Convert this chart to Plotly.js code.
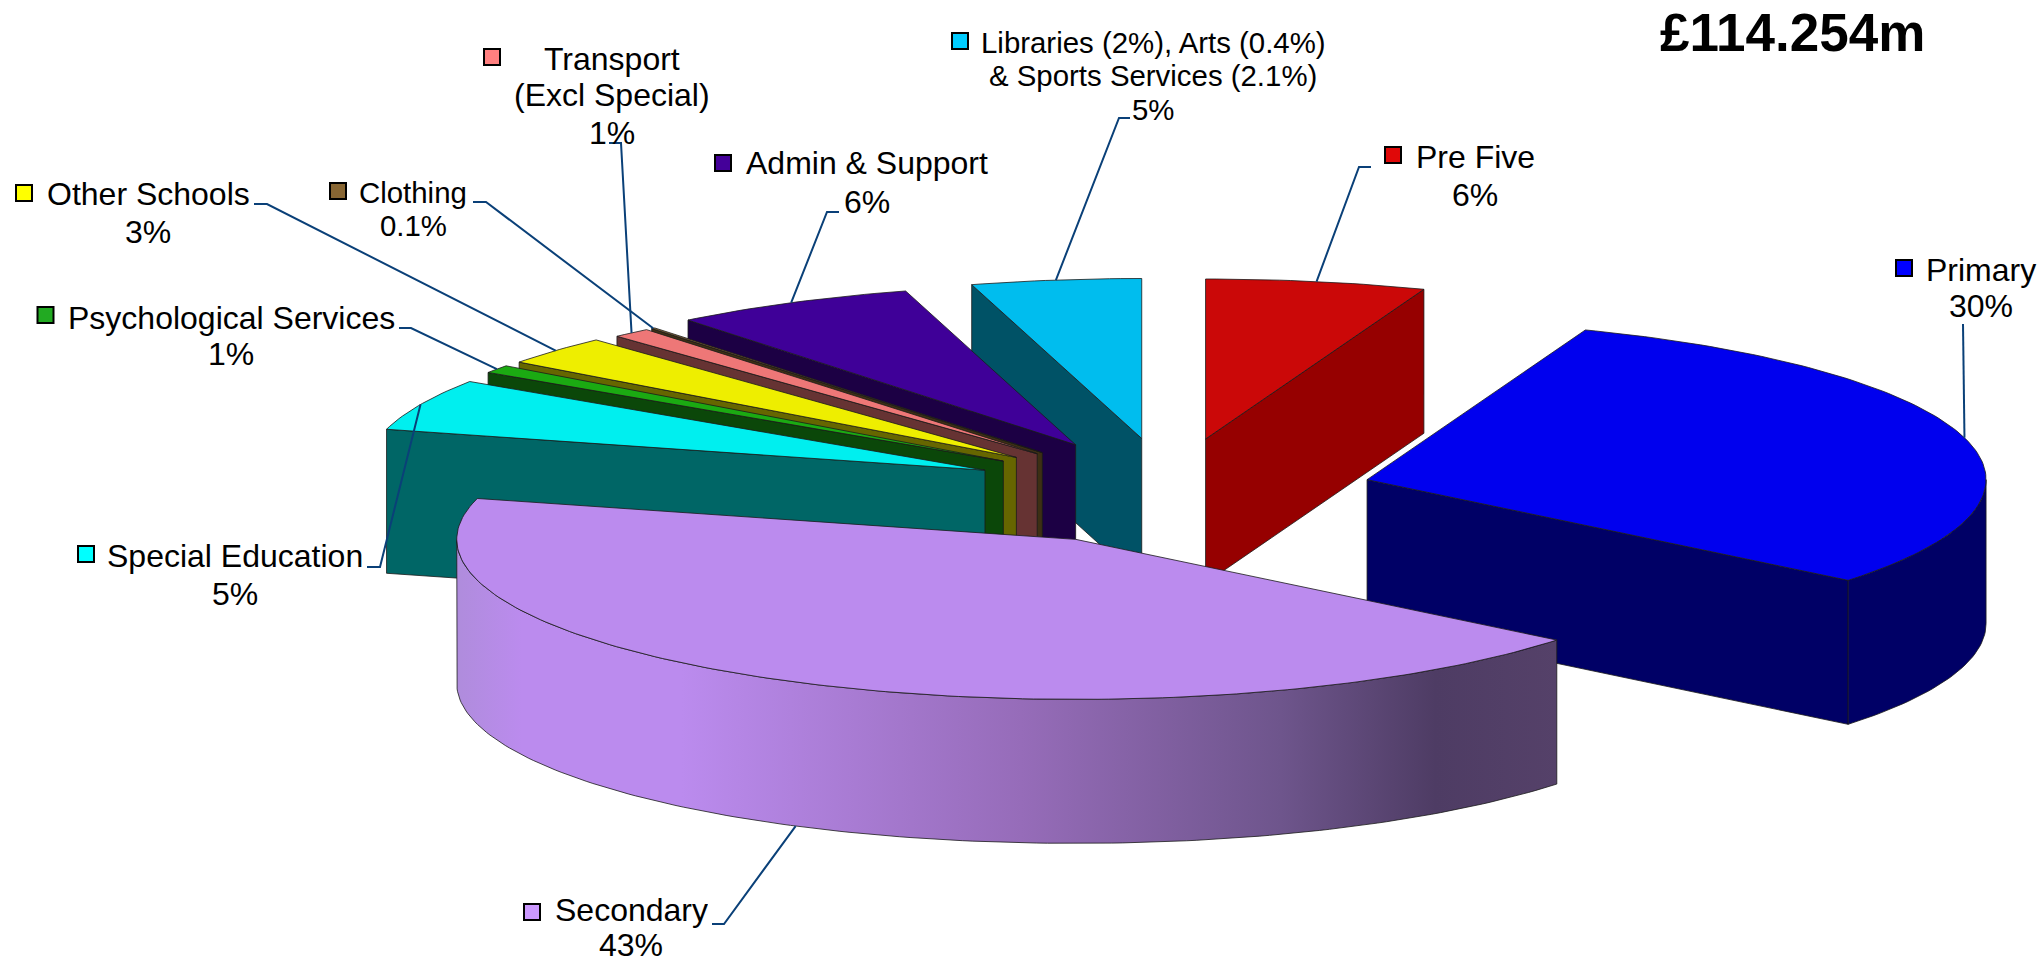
<!DOCTYPE html>
<html>
<head>
<meta charset="utf-8">
<script src="https://cdn.plot.ly/plotly-3.0.1.min.js"></script>
<style>html,body{margin:0;padding:0;background:#fff}#chart{width:2041px;height:962px}</style>
</head>
<body>
<div id="chart"></div>
<script>
// ---- data (clockwise from 12 o'clock) ----
const categories = ['Pre Five','Primary','Secondary','Special Education','Psychological Services','Other Schools','Transport','Clothing','Admin & Support','Libraries'];
const values = [5.7,29.9,43,5.2,0.8,2.95,1,0.1,6.3,4.4];
const percentLabels = ['6%','30%','43%','5%','1%','3%','1%','0.1%','6%','5%'];
const totalLabel = '£114.254m';
const labelLines = [['Pre Five'],['Primary'],['Secondary'],['Special Education'],['Psychological Services'],['Other Schools'],['Transport','(Excl Special)'],['Clothing'],['Admin & Support'],['Libraries (2%), Arts (0.4%)','& Sports Services (2.1%)']];

// ---- styles ----
const keyColors  = ['#E00808','#0000FF','#CC99FF','#00FFFF','#22AA22','#FFFF00','#FF8080','#886633','#440099','#00CCFF'];
const topColors  = ['#CB0808','#0000EE','#BB8BEE','#00EFEF','#1BAA12','#EEEE00','#EE7777','#806030','#3F0098','#00BDEE'];
const sideColors = ['#960000','#000066','#BB8BEE','#006666','#0B4709','#666600','#663333','#3D2F14','#1C0044','#005266'];
const gradientStops = [[0,'rgb(175,140,220)'],[0.059,'rgb(187,139,238)'],[0.204,'rgb(187,139,238)'],[0.513,'rgb(150,108,185)'],[0.749,'rgb(110,85,140)'],[0.89,'rgb(78,60,100)'],[1,'rgb(85,65,105)']];
const edgeColor = '#1a1a1a', leaderColor = '#0A4078';

// ---- layout constants of the tilted pie, in axis units ----
const centre = [1173.5,490], radiusX = 619, radiusY = 160, depth = 144;
const explodeX = [0.289,0.324,0.349,0.334,0.336,0.341,0.336,0.337,0.344,0.370];
const explodeY = [0.324,0.247,0.346,0.302,0.314,0.305,0.300,0.300,0.318,0.325];
const drawOrder = [9,0,8,7,6,5,4,3,1,2];

// ---- label layout, in axis units ----
const labelSizes = [32,32,32,32,32,32,32,29.4,32,29.4];
const labelX = [1475,1981,631,235,231,148,612,413,867,1153];
const labelY = [[157,195],[270,306],[910,945],[556,594],[318,354],[194,232],[59,95,133],[192,225],[163,202],[42,75,109]];
const labelBoxHeights = {2:[36,34]};
const keyX = [1393,1904,532,86,45.5,24,492,338,723,960];
const keyY = [155,268,912,554,315,193,57,191,163,41];
const leaderElbows = [[[1371,167],[1359,167]],[[1963,324]],[[712,924],[724,924]],[[367,567],[380,567]],[[399,328],[411,328]],[[254,204],[267,204]],[[609,143],[621,143]],[[473,202],[486,202]],[[839,212],[827,212]],[[1130,118],[1119,118]]];
const leaderOnSide = [false,false,true,false,false,false,false,false,false,false];

// ---- geometry from the values ----
const rad = d => d*Math.PI/180;
const total = values.reduce((a,b)=>a+b,0);
let running = 0;
const slices = values.map((v,i)=>{
  const a0 = running/total*360; running += v; const a1 = running/total*360;
  const mid = (a0+a1)/2;
  return {i,a0,a1,mid,
    ax: centre[0]+explodeX[i]*radiusX*Math.sin(rad(mid)),
    ay: centre[1]-explodeY[i]*radiusY*Math.cos(rad(mid))};
});
const rim = (s,a,z) => [s.ax+radiusX*Math.sin(rad(a)), s.ay-radiusY*Math.cos(rad(a))+z];
function sweep(a,b){const n=Math.max(1,Math.ceil(Math.abs(b-a)));const o=[];for(let k=0;k<=n;k++)o.push(a+(b-a)*k/n);return o;}
function poly(points,color,extra){
  const closed = points.concat([points[0]]);
  return Object.assign({type:'scatter',mode:'lines',x:closed.map(p=>p[0]),y:closed.map(p=>p[1]),
    fill:'toself',fillcolor:color,line:{color:edgeColor,width:0.8},hoverinfo:'skip',showlegend:false},extra||{});
}
const traces = [];
drawOrder.forEach(i=>{
  const s = slices[i];
  const apexTop=[s.ax,s.ay], apexBot=[s.ax,s.ay+depth];
  // radial faces that look toward the viewer
  if(Math.sin(rad(s.a0))<0) traces.push(poly([apexTop,rim(s,s.a0,0),rim(s,s.a0,depth),apexBot],sideColors[i]));
  if(Math.sin(rad(s.a1))>0) traces.push(poly([apexTop,rim(s,s.a1,0),rim(s,s.a1,depth),apexBot],sideColors[i]));
  // curved outer wall, front half only
  const w0=Math.max(s.a0,90), w1=Math.min(s.a1,270);
  if(w1>w0){
    const arc=sweep(w0,w1);
    const pts=arc.map(a=>rim(s,a,0)).concat(arc.slice().reverse().map(a=>rim(s,a,depth)));
    const extra={};
    if(i===2){
      const xs=pts.map(p=>p[0]);
      extra.fillgradient={type:'horizontal',start:Math.min(...xs),stop:Math.max(...xs),colorscale:gradientStops};
    }
    traces.push(poly(pts,sideColors[i],extra));
  }
  // top face
  traces.push(poly([apexTop].concat(sweep(s.a0,s.a1).map(a=>rim(s,a,0))),topColors[i]));
});
// leader lines end on the rim at each slice's middle angle
slices.forEach(s=>{
  const end = rim(s,s.mid,leaderOnSide[s.i]?depth:0);
  const pts = leaderElbows[s.i].concat([end]);
  traces.push({type:'scatter',mode:'lines',x:pts.map(p=>p[0]),y:pts.map(p=>p[1]),
    line:{color:leaderColor,width:2},hoverinfo:'skip',showlegend:false});
});
// legend keys
traces.push({type:'scatter',mode:'markers',x:keyX,y:keyY,
  marker:{symbol:'square',size:16,color:keyColors,line:{color:'#000',width:2}},hoverinfo:'skip',showlegend:false});

// ---- text ----
const annotations=[];
const font='"Liberation Sans", Arial, sans-serif';
categories.forEach((c,i)=>{
  const lines=labelLines[i].concat([percentLabels[i]]);
  lines.forEach((t,k)=>{
    const a={x:labelX[i],y:labelY[i][k],xref:'x',yref:'y',text:t,showarrow:false,
      xanchor:'center',yanchor:'middle',font:{family:font,size:labelSizes[i],color:'#000'}};
    if(labelBoxHeights[i]) a.height=labelBoxHeights[i][k];
    annotations.push(a);
  });
});
annotations.push({x:1792,y:32,xref:'x',yref:'y',text:totalLabel,showarrow:false,xanchor:'center',yanchor:'middle',
  font:{family:font,size:53,color:'#000',weight:700}});

Plotly.newPlot('chart',traces,{
  width:2041,height:962,autosize:false,margin:{l:0,r:0,t:0,b:0},
  paper_bgcolor:'#fff',plot_bgcolor:'#fff',showlegend:false,
  xaxis:{range:[0,2041],visible:false,fixedrange:true},
  yaxis:{range:[962,0],visible:false,fixedrange:true},
  annotations
},{displayModeBar:false,staticPlot:true});
</script>
</body>
</html>
